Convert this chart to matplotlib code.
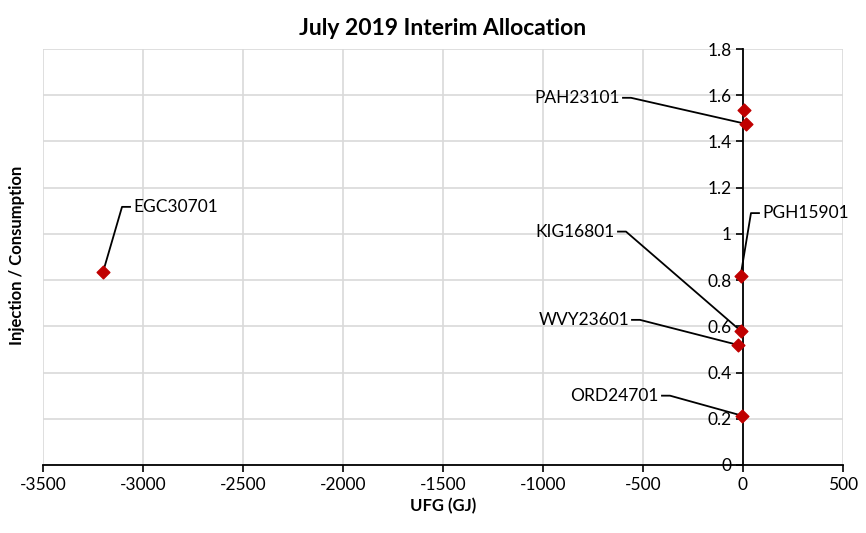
import numpy as np
import matplotlib.pyplot as plt

plt.rcParams['font.family'] = ['Lato', 'DejaVu Sans']
plt.rcParams['axes.unicode_minus'] = False

# data
names = ['EGC30701', '', 'PAH23101', 'PGH15901', 'KIG16801', 'WVY23601', 'ORD24701']
ufg = [-3200, 5, 15, -12, -12, -23, -3]
ratio = [0.835, 1.537, 1.476, 0.818, 0.581, 0.519, 0.213]

# label placement (data coords) and which side the text sits on
label_pos = {
    'EGC30701': (-3050, 1.117, 'left'),
    'PAH23101': (-615, 1.589, 'right'),
    'PGH15901': (95, 1.09, 'left'),
    'KIG16801': (-640, 1.01, 'right'),
    'WVY23601': (-570, 0.628, 'right'),
    'ORD24701': (-420, 0.30, 'right'),
}

fig = plt.figure(figsize=(8.66, 5.33), dpi=100)
ax = fig.add_axes([0.0497, 0.1276, 0.9237, 0.7804])

ax.set_xlim(-3500, 500)
ax.set_ylim(0, 1.8)
ax.set_xticks(np.arange(-3500, 501, 500))
ax.set_yticks(np.arange(0, 1.81, 0.2))
ax.set_yticklabels(['0', '0.2', '0.4', '0.6', '0.8', '1', '1.2', '1.4', '1.6', '1.8'])
ax.grid(True, color='#d9d9d9', lw=1.2)
ax.set_axisbelow(True)

ax.spines['left'].set_position(('data', 0))
ax.spines['right'].set_visible(False)
ax.spines['top'].set_visible(False)
for s in ['left', 'bottom']:
    ax.spines[s].set_linewidth(1.3)
    ax.spines[s].set_zorder(1)
ax.tick_params(axis='both', direction='out', length=5, width=1.2, labelsize=12.5, colors='black')
ax.tick_params(axis='y', pad=3)

ax.scatter(ufg, ratio, marker='D', s=42, color='#c00000', zorder=4)

for name, x, y in zip(names, ufg, ratio):
    if not name:
        continue
    tx, ty, side = label_pos[name]
    gap = 15 if side == 'left' else -15
    elbow = -40 if side == 'left' else 40
    ax.text(tx, ty, name, ha=side, va='center', fontsize=12.5)
    sx = tx - gap
    ax.plot([sx, sx + elbow, x], [ty, ty, y], color='black', lw=1.3, zorder=3)

ax.set_title('July 2019 Interim Allocation', fontsize=16.5, fontweight='bold', pad=10)
ax.set_xlabel('UFG (GJ)', fontsize=12, fontweight='bold', labelpad=4)
fig.text(0.02, 0.52, 'Injection / Consumption', rotation=90, ha='center', va='center',
         fontsize=12, fontweight='bold')

plt.savefig('out.png', dpi=100)
plt.close()
